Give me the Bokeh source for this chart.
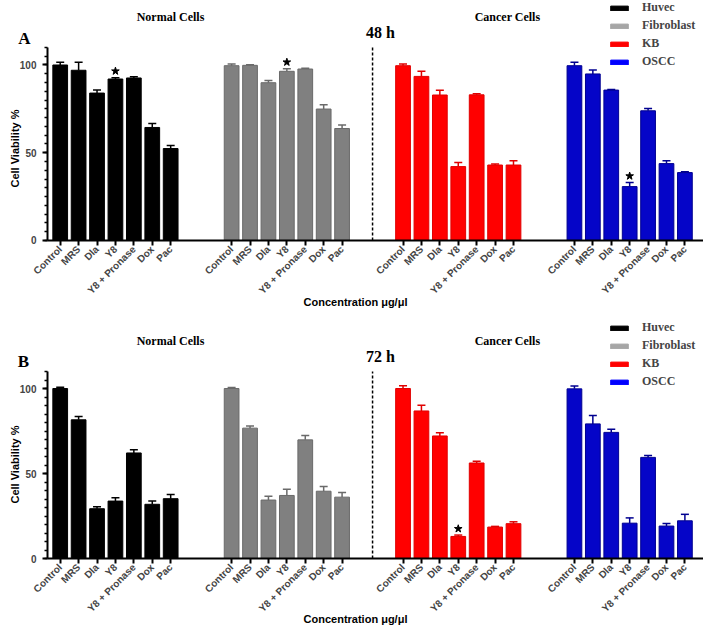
import math
from bokeh.plotting import figure
from bokeh.models import (Range1d, FixedTicker, CustomJSTickFormatter, Label, Legend,
                          LegendItem, Whisker, TeeHead, ColumnDataSource)
from bokeh.layouts import column
from bokeh.embed import file_html
from bokeh.resources import INLINE

treatments = ["Control", "MRS", "Dla", "Y8", "Y8 + Pronase", "Dox", "Pac"]
cell_lines = ["Huvec", "Fibroblast", "KB", "OSCC"]

# 48 h
huvec_48 = [100, 97, 84, 92, 92.6, 64.4, 52.4]
huvec_48_err = [1.5, 4.5, 1.7, 0.8, 0.7, 2.3, 1.7]
fibro_48 = [99.6, 99.8, 89.9, 96.4, 97.7, 74.9, 63.8]
fibro_48_err = [1.0, 0.3, 1.2, 1.5, 0.4, 2.5, 2.0]
kb_48 = [99.6, 93.5, 82.9, 42.1, 83.0, 43.0, 43.0]
kb_48_err = [1.0, 2.9, 2.7, 2.3, 0.6, 0.6, 2.5]
oscc_48 = [99.6, 94.9, 85.7, 30.7, 73.9, 43.8, 38.7]
oscc_48_err = [1.9, 2.3, 0.4, 2.3, 1.3, 1.7, 0.4]
stars_48 = [("Huvec", "Y8"), ("Fibroblast", "Y8"), ("OSCC", "Y8")]

# 72 h
huvec_72 = [100, 81.6, 29.3, 33.8, 62.1, 31.9, 35.2]
huvec_72_err = [0.8, 1.9, 1.1, 1.9, 1.9, 1.9, 2.5]
fibro_72 = [100, 76.7, 34.4, 37.1, 69.8, 39.6, 36.1]
fibro_72_err = [0.6, 1.3, 2.3, 3.6, 2.5, 2.7, 2.7]
kb_72 = [100, 86.8, 72.1, 13.0, 56.2, 18.5, 20.5]
kb_72_err = [1.7, 3.3, 1.9, 0.8, 1.0, 0.4, 1.1]
oscc_72 = [99.8, 79.2, 74.2, 20.8, 59.5, 19.1, 22.2]
oscc_72_err = [1.7, 5.0, 1.9, 3.1, 1.1, 1.5, 3.8]
stars_72 = [("KB", "Y8")]

y_major = [0, 50, 100]
y_minor = list(range(0, 115, 5))

bar_fill = ["#000000", "#808080", "#ff0000", "#0505c8"]
bar_line = ["#000000", "#6a6a6a", "#e00000", "#000090"]
legend_fill = ["#000000", "#a6a6a6", "#ff0000", "#0000ff"]

GROUP_STEP = 9.31
SANS = "Liberation Sans"
SERIF = "Liberation Serif"
WIDTH = 703
X_START, X_END = -3.243, 34.94
Y_AXIS_AT = -0.69


def make_panel(series, errs, stars, letter, hours, height, y_lo, y_hi, pos):
    p = figure(width=WIDTH, height=height, x_range=Range1d(X_START, X_END),
               y_range=Range1d(y_lo, y_hi), output_backend="svg", toolbar_location=None,
               min_border=0, min_border_left=0, min_border_right=0, min_border_top=0,
               min_border_bottom=0, title=None)
    p.xgrid.visible = False
    p.ygrid.visible = False
    p.outline_line_color = None
    p.background_fill_color = "white"

    all_x = []
    for g, (vals, er) in enumerate(zip(series, errs)):
        xs = [i + g * GROUP_STEP for i in range(len(treatments))]
        all_x.extend(xs)
        src = ColumnDataSource(dict(x=xs, top=vals, upper=[v + e for v, e in zip(vals, er)]))
        p.vbar(x="x", top="top", bottom=0, width=0.8, source=src,
               fill_color=bar_fill[g], line_color=bar_line[g], line_width=1)
        w = Whisker(source=src, base="x", lower="top", upper="upper", lower_head=None,
                    upper_head=TeeHead(size=8, line_color=bar_line[g], line_width=1.5),
                    line_color=bar_line[g], line_width=1.5, level="glyph")
        p.add_layout(w)

    # stars
    sx, sy = [], []
    for line, tr in stars:
        g = cell_lines.index(line)
        i = treatments.index(tr)
        sx.append(i + g * GROUP_STEP)
        sy.append(series[g][i] + errs[g][i] + 3.7)
    p.scatter(sx, sy, marker="star", size=8, color="black")

    # dashed separator between normal and cancer cells
    xmid = ((len(treatments) - 1 + GROUP_STEP) + 2 * GROUP_STEP) / 2
    p.segment(x0=[xmid], x1=[xmid], y0=[0], y1=[110], line_color="black",
              line_width=1.5, line_dash="3 2")

    # axes
    xa = p.xaxis[0]
    xa.fixed_location = 0
    xa.bounds = (Y_AXIS_AT, X_END)
    xa.ticker = FixedTicker(ticks=all_x)
    xa.formatter = CustomJSTickFormatter(args=dict(labels=treatments),
                                         code="return labels[index % labels.length];")
    xa.major_label_orientation = math.pi / 4
    xa.major_label_text_font = SANS
    xa.major_label_text_font_style = "bold"
    xa.major_label_text_font_size = "10px"
    xa.major_label_standoff = 2
    xa.axis_line_width = 2
    xa.major_tick_line_width = 2
    xa.major_tick_out = 5
    xa.major_tick_in = 0
    xa.minor_tick_line_color = None

    ya = p.yaxis[0]
    ya.fixed_location = Y_AXIS_AT
    ya.ticker = FixedTicker(ticks=y_major, minor_ticks=y_minor)
    ya.bounds = (0, 110)
    ya.axis_line_width = 2
    ya.major_tick_line_width = 2
    ya.minor_tick_line_width = 1.5
    ya.major_tick_out = 5
    ya.major_tick_in = 0
    ya.minor_tick_out = 3
    ya.minor_tick_in = 0
    ya.major_label_text_font = SANS
    ya.major_label_text_font_style = "bold"
    ya.major_label_text_font_size = "10px"
    ya.major_label_standoff = 6

    def lab(text, x, y, font, size, style="bold", angle=0.0):
        p.add_layout(Label(x=x, y=y, x_units="screen", y_units="screen", text=text,
                           text_font=font, text_font_size=size, text_font_style=style,
                           text_align="center", text_baseline="middle", angle=angle,
                           text_color="black"))

    lab(letter, pos["letter"][0], pos["letter"][1], SERIF, "17px")
    lab("Normal Cells", pos["normal"], pos["titles"], SERIF, "12px")
    lab("Cancer Cells", pos["cancer"], pos["titles"], SERIF, "12px")
    lab(hours, pos["hours"][0], pos["hours"][1], SERIF, "16px")
    lab("Concentration μg/μl", pos["conc"][0], pos["conc"][1], SANS, "11px")
    lab("Cell Viability %", pos["ylab"][0], pos["ylab"][1], SANS, "11px", angle=math.pi / 2)

    items = []
    for name, fc in zip(cell_lines, legend_fill):
        r = p.vbar(x=[float("nan")], top=[float("nan")], width=0.8,
                   fill_color=fc, line_color=fc)
        items.append(LegendItem(label=name, renderers=[r]))
    leg = Legend(items=items, location=pos["legend"], orientation="vertical",
                 glyph_width=22, glyph_height=6, label_height=14, spacing=3,
                 padding=0, margin=0, label_standoff=12, border_line_color=None,
                 background_fill_alpha=0, label_text_font=SERIF,
                 label_text_font_style="bold", label_text_font_size="12px")
    p.add_layout(leg)
    return p


pA = make_panel([huvec_48, fibro_48, kb_48, oscc_48],
                [huvec_48_err, fibro_48_err, kb_48_err, oscc_48_err],
                stars_48, "A", "48 h", 310, -39.9, 136.75,
                dict(letter=(24, 272), normal=170, cancer=507, titles=294,
                     hours=(380, 278), conc=(355, 9), ylab=(14, 162), legend=(608, 241)))
pB = make_panel([huvec_72, fibro_72, kb_72, oscc_72],
                [huvec_72_err, fibro_72_err, kb_72_err, oscc_72_err],
                stars_72, "B", "72 h", 315, -39.4, 145.9,
                dict(letter=(23, 264), normal=170, cancer=507, titles=285,
                     hours=(380, 269), conc=(355, 7), ylab=(14, 161), legend=(608, 236)))

layout = column(pA, pB, spacing=0)
open("out.html", "w").write(file_html(layout, INLINE))
